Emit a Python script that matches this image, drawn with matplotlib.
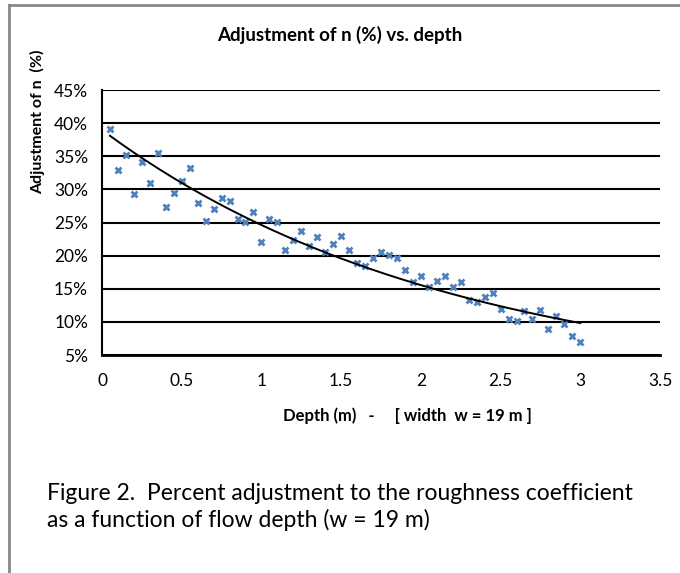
import numpy as np
import matplotlib
matplotlib.use("Agg")
import matplotlib.pyplot as plt
from matplotlib.ticker import PercentFormatter
from matplotlib.lines import Line2D

plt.rcParams['font.family'] = ['Lato', 'DejaVu Sans']

# depth (m) and adjustment of n (%)
depth = np.round(np.arange(1, 61) * 0.05, 2)
adjust = [39.1, 33.0, 35.2, 29.3, 34.1, 30.9, 35.5, 27.4, 29.4, 31.3,
          33.2, 27.9, 25.2, 27.0, 28.7, 28.2, 25.6, 25.1, 26.6, 22.1,
          25.6, 25.1, 20.9, 22.3, 23.7, 21.4, 22.8, 20.6, 21.8, 23.0,
          20.9, 18.9, 18.5, 19.6, 20.6, 20.1, 19.6, 17.9, 16.0, 16.9,
          15.3, 16.1, 16.9, 15.3, 16.0, 13.3, 13.0, 13.7, 14.3, 11.9,
          10.5, 10.2, 11.7, 10.4, 11.8, 8.9, 10.9, 9.7, 7.9, 6.9]
adjust = np.array(adjust)

yticks = [5, 10, 15, 20, 25, 30, 35, 40, 45]
xticks = [0, 0.5, 1, 1.5, 2, 2.5, 3, 3.5]

# exponential trend line (like Excel)
b, ln_a = np.polyfit(depth, np.log(adjust), 1)
x_fit = np.linspace(depth[0], depth[-1], 200)
y_fit = np.exp(ln_a) * np.exp(b * x_fit)

fig = plt.figure(figsize=(6.8, 5.73), dpi=100)
ax = fig.add_axes([0.15, 0.3804, 0.8206, 0.4625])

ax.plot(depth, adjust, linestyle='none', marker='x', markersize=4.5,
        markeredgewidth=2, color='#4F81BD', zorder=3)
ax.plot(x_fit, y_fit, color='black', lw=1.4, zorder=4)

ax.set_xlim(0, 3.5)
ax.set_ylim(5, 45)
ax.set_xticks(xticks)
ax.set_xticklabels(['0', '0.5', '1', '1.5', '2', '2.5', '3', '3.5'])
ax.set_yticks(yticks)
ax.yaxis.set_major_formatter(PercentFormatter(decimals=0))
ax.tick_params(length=0, labelsize=12.5)
ax.tick_params(axis='x', pad=13)
ax.tick_params(axis='y', pad=10)
ax.grid(axis='y', color='black', lw=1.5)
ax.set_axisbelow(True)
for s in ['top', 'right']:
    ax.spines[s].set_visible(False)
ax.spines['left'].set_linewidth(1.5)
ax.spines['bottom'].set_linewidth(2)

fig.text(340 / 680, 1 - 35 / 573, 'Adjustment of n (%) vs. depth', ha='center', va='center',
         fontsize=13.5, fontweight='bold')
fig.text(38 / 680, 1 - 122 / 573, 'Adjustment of n  (%)', ha='center', va='center',
         rotation=90, fontsize=11.5, fontweight='bold')
fig.text(407 / 680, 1 - 416 / 573, 'Depth (m)   -     [ width  w = 19 m ]', ha='center',
         va='center', fontsize=12, fontweight='bold')
fig.text(47 / 680, 1 - 493 / 573, 'Figure 2.  Percent adjustment to the roughness coefficient',
         ha='left', va='center', fontsize=16.5)
fig.text(47 / 680, 1 - 520 / 573, 'as a function of flow depth (w = 19 m)',
         ha='left', va='center', fontsize=16.5)

# grey frame
fig.add_artist(Line2D([9 / 680, 1], [1 - 5 / 573] * 2, color='#888888', lw=2))
fig.add_artist(Line2D([9 / 680] * 2, [0, 1 - 5 / 573], color='#888888', lw=2))

fig.savefig('out.png', dpi=100)
